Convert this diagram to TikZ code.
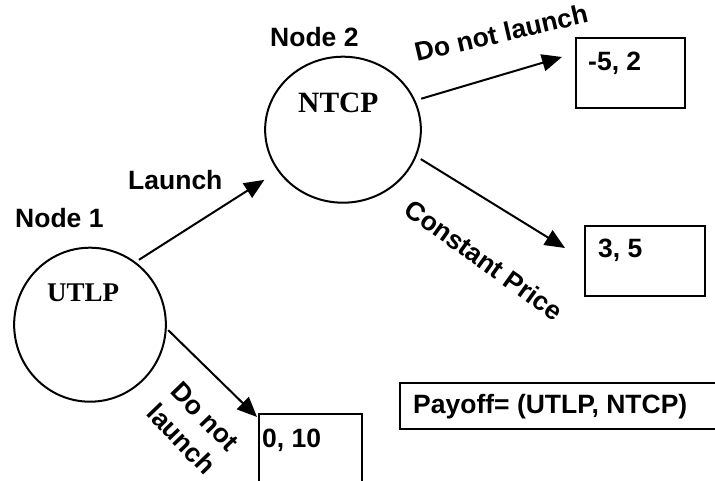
\documentclass[tikz,border=0pt]{standalone}
\usepackage{fontspec}
\setmainfont{Liberation Sans}
\newfontfamily\playerfont{Liberation Serif}
\usetikzlibrary{arrows.meta,shapes.geometric,calc}

\tikzset{
  lbl/.style={font=\fontsize{26.5}{33}\selectfont\bfseries, inner sep=0pt},
  player/.style={font=\playerfont\bfseries, inner sep=0pt, anchor=base west},
  decision/.style={draw, ellipse, line width=2pt, inner sep=0pt},
  payoffbox/.style={draw, rectangle, line width=2pt, inner sep=0pt, anchor=north west},
  arr/.style={-{Triangle[length=20pt,width=17pt]}, line width=2pt}
}

\begin{document}
\begin{tikzpicture}[x=1pt,y=-1pt]
  \useasboundingbox (0,0) rectangle (715,481);
  \clip (0,0) rectangle (715,481);

  % decision nodes
  \node[decision, minimum width=151.7pt, minimum height=154pt] (utlp) at (90,324.7) {};
  \node[decision, minimum width=155.7pt, minimum height=146pt] (ntcp) at (343,129.7) {};
  \node[player, font=\fontsize{27}{30}\selectfont\playerfont\bfseries] (utlptext) at (47,301) {UTLP};
  \node[player, font=\fontsize{29.5}{32}\selectfont\playerfont\bfseries] (ntcptext) at (298,113) {NTCP};

  \node[lbl, anchor=base west] (node1) at (15,228) {Node 1};
  \node[lbl, anchor=base west] (node2) at (270,47) {Node 2};

  % payoff boxes
  \node[payoffbox, minimum width=109pt, minimum height=70pt] (box52) at (575,37) {};
  \node[payoffbox, minimum width=120pt, minimum height=70pt] (box35) at (584,225) {};
  \node[payoffbox, minimum width=103pt, minimum height=74pt] (box010) at (258,413) {};
  \node[payoffbox, minimum width=330pt, minimum height=46pt] (boxpay) at (399,382) {};

  \node[lbl, anchor=base west] (t52) at (588,70.5) {-5, 2};
  \node[lbl, anchor=base west] (t35) at (598,258) {3, 5};
  \node[lbl, anchor=base west] (t010) at (262,447) {0, 10};
  \node[lbl, anchor=base west] (tpay) at (413,413) {Payoff= (UTLP, NTCP)};

  % arrow ends next to the boxes
  \coordinate (c52) at ($(box52.north west)+(-13,20)$);
  \coordinate (c35) at ($(box35.north west)+(-19,23)$);
  \coordinate (c010) at ($(box010.north west)+(-1,4)$);

  % moves
  \draw[arr, shorten <=4pt, shorten >=16pt] (utlp.54) -- (ntcp);
  \draw[arr, shorten <=2pt] (utlp.-3) -- (c010);
  \draw[arr, shorten <=6pt] (ntcp.22) -- (c52);
  \draw[arr, shorten <=5pt] (ntcp.-20) -- (c35);

  % move labels
  \node[lbl, anchor=base west] (launch) at (128,190) {Launch};
  \node[lbl, anchor=base west, rotate=13] (dnl2) at (417,62) {Do not launch};
  \node[lbl, rotate=-35.6] (cp) at (484,260) {Constant Price};
  \node[lbl, rotate=-46, align=center] (dnl1) at (193,428) {Do not\\launch};
\end{tikzpicture}
\end{document}
